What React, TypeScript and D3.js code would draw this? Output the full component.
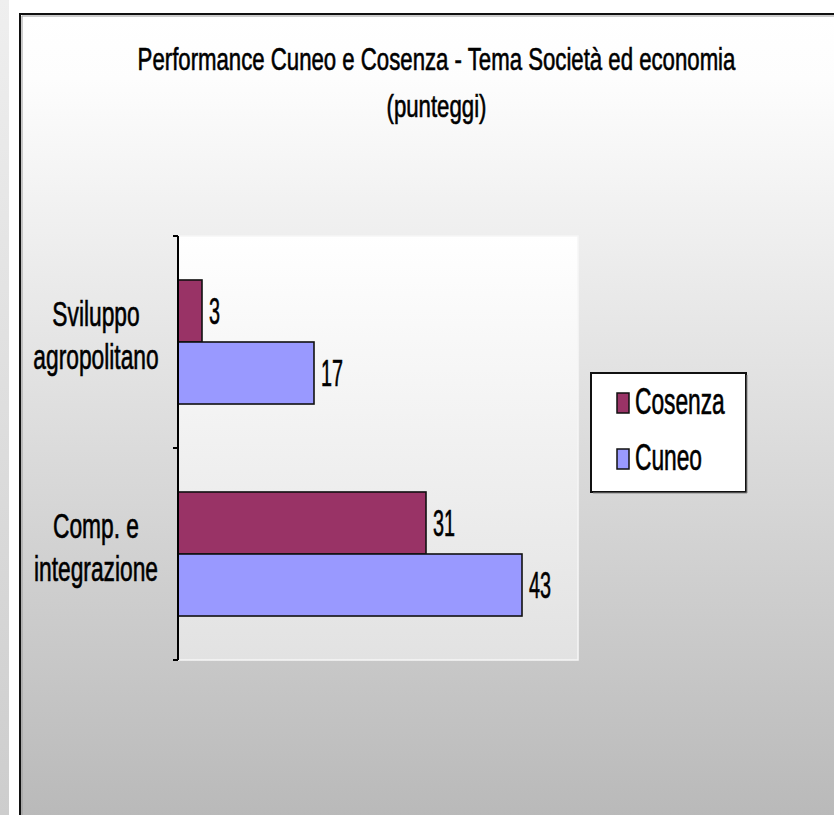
import React from "react";
import * as d3 from "d3";

// chart values
const categories = ["Sviluppo agropolitano", "Comp. e integrazione"];
const categoryLines = [
  ["Sviluppo", "agropolitano"],
  ["Comp. e", "integrazione"],
];
const seriesNames = ["Cosenza", "Cuneo"];
const cosenzaValues = [3, 31];
const cuneoValues = [17, 43];
const seriesColors = ["#993366", "#9999FF"];
const xDomain: [number, number] = [0, 50];

const titleLines = [
  "Performance Cuneo e Cosenza - Tema Società ed economia",
  "(punteggi)",
];

const W = 834;
const H = 815;
const FONT = "'Liberation Sans', Arial, sans-serif";

// plot area
const plot = { left: 178, right: 578, top: 236, bottom: 660 };

function SText({
  x,
  y,
  size,
  sx,
  anchor = "start",
  children,
}: {
  x: number;
  y: number;
  size: number;
  sx: number;
  anchor?: string;
  children: React.ReactNode;
}) {
  return (
    <text
      transform={`translate(${x},${y}) scale(${sx},1.04)`}
      fontFamily={FONT}
      fontSize={size}
      textAnchor={anchor}
      fill="#000"
      stroke="#000"
      strokeWidth={0.6}
    >
      {children}
    </text>
  );
}

export default function App() {
  const xScale = d3.scaleLinear().domain(xDomain).range([plot.left, plot.right]);

  const yScale = d3
    .scaleBand<string>()
    .domain(categories)
    .range([plot.top, plot.bottom])
    .paddingInner(0.415)
    .paddingOuter(0.2075);

  const subScale = d3
    .scaleBand<string>()
    .domain(seriesNames)
    .range([0, yScale.bandwidth()]);

  const valuesBySeries = [cosenzaValues, cuneoValues];
  const step = yScale.step();
  const boundaries = d3.range(categories.length + 1).map((i) => plot.top + i * step);

  return (
    <svg
      width={W}
      height={H}
      style={{ position: "absolute", left: 0, top: 0, display: "block" }}
    >
      <defs>
        <linearGradient id="outerBg" x1="0" y1="0" x2="0" y2="1">
          <stop offset="0" stopColor="#ffffff" />
          <stop offset="0.08" stopColor="#fdfdfd" />
          <stop offset="1" stopColor="#b8b8b8" />
        </linearGradient>
        <linearGradient id="plotBg" x1="0" y1="0" x2="0" y2="1">
          <stop offset="0" stopColor="#ffffff" />
          <stop offset="1" stopColor="#e2e2e2" />
        </linearGradient>
        <linearGradient id="stripBg" x1="0" y1="0" x2="0" y2="1">
          <stop offset="0" stopColor="#efefef" />
          <stop offset="1" stopColor="#cdcdcd" />
        </linearGradient>
      </defs>

      {/* page strip on the left */}
      <rect x={0} y={0} width={W} height={H} fill="#ffffff" />
      <rect x={0} y={0} width={9} height={H} fill="url(#stripBg)" />

      {/* chart area */}
      <rect x={20} y={14} width={W} height={H} fill="url(#outerBg)" />
      <rect
        x={20}
        y={14}
        width={W + 20}
        height={H + 20}
        fill="none"
        stroke="#111"
        strokeWidth={2}
      />
      <line x1={22} x2={W} y1={16} y2={16} stroke="#999" strokeWidth={1} />
      <line x1={22} x2={22} y1={16} y2={H} stroke="#999" strokeWidth={1} />

      {/* title */}
      <SText x={436.5} y={70} size={30} sx={0.74} anchor="middle">
        {titleLines[0]}
      </SText>
      <SText x={436.5} y={117} size={30} sx={0.74} anchor="middle">
        {titleLines[1]}
      </SText>

      {/* plot background */}
      <rect
        x={plot.left}
        y={plot.top}
        width={plot.right - plot.left}
        height={plot.bottom - plot.top}
        fill="url(#plotBg)"
        stroke="#f6f6f6"
        strokeWidth={1.5}
      />

      {/* bars */}
      {seriesNames.map((s, si) =>
        categories.map((c, ci) => {
          const v = valuesBySeries[si][ci];
          const y0 = (yScale(c) ?? 0) + (subScale(s) ?? 0);
          const bh = subScale.bandwidth();
          return (
            <g key={`${s}-${c}`}>
              <rect
                x={xScale(0)}
                y={y0}
                width={xScale(v) - xScale(0)}
                height={bh}
                fill={seriesColors[si]}
                stroke="#111"
                strokeWidth={1.6}
              />
              <SText x={xScale(v) + 7} y={y0 + bh / 2 + 13} size={36} sx={0.55}>
                {v}
              </SText>
            </g>
          );
        })
      )}

      {/* category axis */}
      <line
        x1={plot.left}
        x2={plot.left}
        y1={plot.top}
        y2={plot.bottom}
        stroke="#000"
        strokeWidth={2}
      />
      {boundaries.map((b, i) => (
        <line
          key={i}
          x1={plot.left - 5}
          x2={plot.left}
          y1={b}
          y2={b}
          stroke="#000"
          strokeWidth={2}
        />
      ))}
      {categories.map((c, ci) => {
        const center = (yScale(c) ?? 0) + yScale.bandwidth() / 2;
        return (
          <g key={c}>
            <SText x={96} y={center - 16} size={33} sx={0.69} anchor="middle">
              {categoryLines[ci][0]}
            </SText>
            <SText x={96} y={center + 27} size={33} sx={0.69} anchor="middle">
              {categoryLines[ci][1]}
            </SText>
          </g>
        );
      })}

      {/* legend */}
      <rect x={591} y={373} width={155} height={119} fill="#fff" stroke="#111" strokeWidth={2} />
      <line x1={593} x2={747} y1={493} y2={493} stroke="#888" strokeWidth={1} />
      <line x1={747} x2={747} y1={375} y2={493} stroke="#888" strokeWidth={1} />
      {seriesNames.map((s, si) => {
        const cy = 403 + si * 56;
        return (
          <g key={s}>
            <rect
              x={617}
              y={cy - 10}
              width={12}
              height={20}
              fill={seriesColors[si]}
              stroke="#111"
              strokeWidth={1.5}
            />
            <SText x={635} y={cy + 11} size={35} sx={0.65}>
              {s}
            </SText>
          </g>
        );
      })}
    </svg>
  );
}
